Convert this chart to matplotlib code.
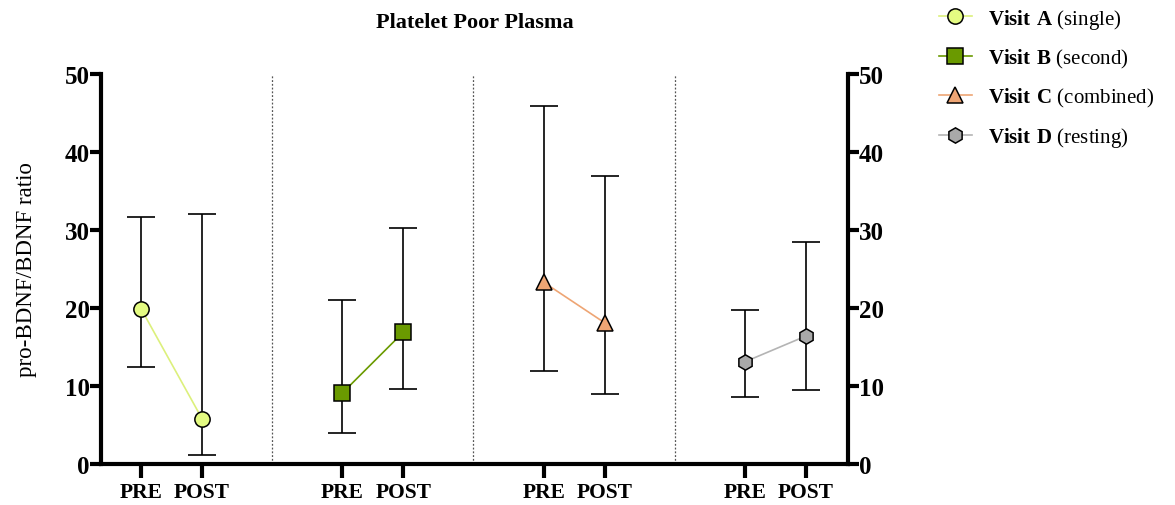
import matplotlib
matplotlib.use("Agg")
import matplotlib.pyplot as plt
from matplotlib.lines import Line2D
import numpy as np

plt.rcParams['font.family'] = ['Liberation Serif', 'DejaVu Serif']
plt.rcParams['mathtext.fontset'] = 'custom'
plt.rcParams['mathtext.rm'] = 'Liberation Serif'
plt.rcParams['mathtext.bf'] = 'Liberation Serif:bold'

# data
visits = ['Visit A', 'Visit B', 'Visit C', 'Visit D']
visit_notes = ['(single)', '(second)', '(combined)', '(resting)']
timepoints = ['PRE', 'POST']
means = [[19.9, 5.8], [9.1, 16.9], [23.3, 18.1], [13.1, 16.4]]
lower = [[12.4, 1.1], [4.0, 9.6], [11.9, 9.0], [8.6, 9.5]]
upper = [[31.7, 32.0], [21.0, 30.3], [45.9, 36.9], [19.7, 28.5]]

fills = ['#e4fb82', '#6a9a00', '#eea574', '#a9a9a9']
lines = ['#dcf07c', '#6a9a00', '#eea574', '#b4b4b4']
markers = ['o', 's', '^', 'h']

gap = 3.3
fig = plt.figure(figsize=(11.75, 5.06), dpi=100)
ax = fig.add_axes([0.086, 0.081, 0.6357, 0.771])

ticks, ticklabels = [], []
for i in range(len(visits)):
    x = np.array([0, 1]) + i * gap
    m = np.array(means[i])
    lo = m - np.array(lower[i])
    hi = np.array(upper[i]) - m
    ax.errorbar(x, m, yerr=[lo, hi], fmt='none', ecolor='black',
                elinewidth=1.2, capsize=10, capthick=1.2, zorder=2)
    ax.plot(x, m, color=lines[i], lw=1.2, marker=markers[i],
            markersize=11 if markers[i] != '^' else 12,
            markerfacecolor=fills[i], markeredgecolor='black',
            markeredgewidth=1.1, zorder=3)
    ticks += list(x)
    ticklabels += timepoints
    if i > 0:
        ax.axvline(i * gap - (gap - 1) / 2, color='#555555', lw=0.9,
                   ls=(0, (1.5, 1.5)), zorder=1)

ax.set_xlim(-0.656, 11.59)
ax.set_ylim(0, 50)
ax.set_xticks(ticks)
ax.set_xticklabels(ticklabels, fontsize=15.5, fontweight='bold')
ax.set_yticks(range(0, 51, 10))
ax.tick_params(axis='y', which='major', labelsize=18, length=8, width=3,
               right=True, labelright=True, pad=0)
for t in ax.yaxis.get_major_ticks():
    t.label1.set_fontweight('bold')
    t.label2.set_fontweight('bold')
ax.tick_params(axis='x', length=10, width=3, pad=3)
ax.spines['top'].set_visible(False)
for s in ['left', 'right', 'bottom']:
    ax.spines[s].set_linewidth(3)

ax.set_ylabel('pro-BDNF/BDNF ratio', fontsize=16.5, labelpad=20)
fig.text(0.404, 0.955, 'Platelet Poor Plasma', fontsize=16,
         fontweight='bold', ha='center', va='center')

handles = [Line2D([], [], color=lines[i], lw=1.2, marker=markers[i],
                  markersize=11 if markers[i] != '^' else 12,
                  markerfacecolor=fills[i], markeredgecolor='black',
                  markeredgewidth=1.1) for i in range(len(visits))]
labels = [r'$\mathbf{' + v.replace(' ', r'\ ') + '}$ ' + n
          for v, n in zip(visits, visit_notes)]
fig.legend(handles, labels, loc='upper left', bbox_to_anchor=(0.783, 1.022),
           frameon=False, fontsize=15, handlelength=1.6, labelspacing=0.78,
           handletextpad=0.75)

fig.savefig('out.png', dpi=100)
